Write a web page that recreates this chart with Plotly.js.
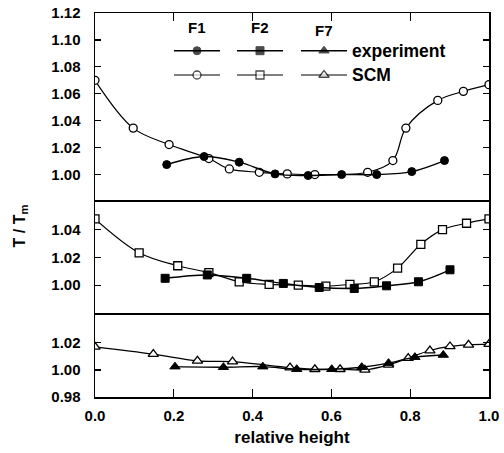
<!DOCTYPE html>
<html>
<head>
<meta charset="utf-8">
<script src="https://cdn.plot.ly/plotly-3.0.1.min.js"></script>
<style>
html,body{margin:0;padding:0;background:#fff;}
#chart{width:504px;height:453px;}
</style>
</head>
<body>
<div id="chart"></div>
<script>
// ---------- DATA ----------
// F1 (top panel)
const f1ScmX = [0.000, 0.097, 0.188, 0.289, 0.341, 0.417, 0.488, 0.558, 0.692, 0.756, 0.789, 0.870, 0.935, 1.000];
const f1ScmY = [1.070, 1.0345, 1.0223, 1.0119, 1.0042, 1.0017, 1.0005, 1.0000, 1.0017, 1.0104, 1.0345, 1.0551, 1.0618, 1.0668];
const f1ExpX = [0.182, 0.277, 0.366, 0.457, 0.541, 0.626, 0.715, 0.804, 0.887];
const f1ExpY = [1.0074, 1.0134, 1.0092, 1.0005, 0.9993, 1.0000, 1.0000, 1.0022, 1.0104];
// F2 (middle panel)
const f2ScmX = [0.000, 0.112, 0.210, 0.289, 0.366, 0.442, 0.516, 0.586, 0.647, 0.709, 0.768, 0.827, 0.882, 0.943, 1.000];
const f2ScmY = [1.0475, 1.0232, 1.0139, 1.0090, 1.0024, 1.0005, 1.0000, 0.9993, 1.0005, 1.0024, 1.0122, 1.0293, 1.0398, 1.0444, 1.0475];
const f2ExpX = [0.178, 0.285, 0.385, 0.478, 0.569, 0.658, 0.740, 0.821, 0.901];
const f2ExpY = [1.0049, 1.0073, 1.0049, 1.0012, 0.9983, 0.9976, 0.9995, 1.0024, 1.0110];
// F7 (bottom panel)
const f7ScmX = [0.000, 0.148, 0.260, 0.349, 0.495, 0.558, 0.622, 0.685, 0.745, 0.795, 0.850, 0.901, 0.948, 1.000];
const f7ScmY = [1.0170, 1.0116, 1.0067, 1.0061, 1.0017, 1.0005, 1.0005, 1.0000, 1.0037, 1.0087, 1.0143, 1.0173, 1.0185, 1.0190];
const f7ExpX = [0.203, 0.326, 0.426, 0.512, 0.601, 0.677, 0.745, 0.812, 0.884];
const f7ExpY = [1.0024, 1.0020, 1.0024, 1.0005, 1.0005, 1.0020, 1.0050, 1.0094, 1.0110];

// ticks
const xTickVals = [0, 0.2, 0.4, 0.6, 0.8, 1.0];
const xTickText = ["0.0", "0.2", "0.4", "0.6", "0.8", "1.0"];
const topTickVals = [1.00, 1.02, 1.04, 1.06, 1.08, 1.10, 1.12];
const topTickText = ["1.00", "1.02", "1.04", "1.06", "1.08", "1.10", "1.12"];
const midTickVals = [1.00, 1.02, 1.04];
const midTickText = ["1.00", "1.02", "1.04"];
const botTickVals = [0.98, 1.00, 1.02];
const botTickText = ["0.98", "1.00", "1.02"];

const groupNames = ["F1", "F2", "F7"];
const rowNames = ["experiment", "SCM"];
const yTitle = "T / T<sub>m</sub>";
const xTitle = "relative height";

// ---------- STYLE ----------
const FONT = "Liberation Sans, Arial, Helvetica, sans-serif";
const W = 504, H = 453;
const M = {l: 95, r: 15, t: 13, b: 56};
const plotW = W - M.l - M.r, plotH = H - M.t - M.b;
const px2x = px => (px - M.l) / plotW;
const py2y = py => (H - M.b - py) / plotH;

const symbols = ["circle", "square", "triangle-up"];
const msize = [8, 8, 9];

function expTrace(x, y, i, xa, ya) {
  return {x: x, y: y, xaxis: xa, yaxis: ya, type: "scatter", mode: "lines+markers",
    line: {color: "#000", width: 1.4, shape: "spline", smoothing: 1},
    marker: {symbol: symbols[i], size: msize[i], color: "#000", line: {color: "#000", width: 1}},
    showlegend: false, hoverinfo: "skip"};
}
function scmTrace(x, y, i, xa, ya) {
  return {x: x, y: y, xaxis: xa, yaxis: ya, type: "scatter", mode: "lines+markers",
    line: {color: "#000", width: 1.2, shape: "spline", smoothing: 1},
    marker: {symbol: symbols[i], size: msize[i], color: "#fff", line: {color: "#000", width: 1.3}},
    showlegend: false, hoverinfo: "skip"};
}

const traces = [
  scmTrace(f1ScmX, f1ScmY, 0, "x3", "y3"),
  expTrace(f1ExpX, f1ExpY, 0, "x3", "y3"),
  scmTrace(f2ScmX, f2ScmY, 1, "x2", "y2"),
  expTrace(f2ExpX, f2ExpY, 1, "x2", "y2"),
  scmTrace(f7ScmX, f7ScmY, 2, "x", "y"),
  expTrace(f7ExpX, f7ExpY, 2, "x", "y"),
  // empty trace so the title-carrying axis (y5) is drawn
  {x: [], y: [], xaxis: "x5", yaxis: "y5", type: "scatter", mode: "lines", showlegend: false, hoverinfo: "skip"}
];

// ---------- custom legend (paper-space overlay) ----------
const legLineL = [174, 237, 301], legLineR = [220, 283, 347], legMark = [197, 260, 324];
const legRowY = [50.7, 75];
const annotations = [];
for (let i = 0; i < 3; i++) {
  for (let r = 0; r < 2; r++) {
    const filled = r === 0;
    traces.push({
      x: [px2x(legLineL[i]), px2x(legMark[i]), px2x(legLineR[i])],
      y: [py2y(legRowY[r]), py2y(legRowY[r]), py2y(legRowY[r])],
      xaxis: "x4", yaxis: "y4", type: "scatter", mode: "lines+markers",
      line: {color: "#000", width: filled ? 1.4 : 1.2},
      marker: {symbol: symbols[i], size: [0, msize[i], 0],
               color: filled ? "#000" : "#fff", line: {color: "#000", width: filled ? 1 : 1.3}},
      showlegend: false, hoverinfo: "skip"
    });
  }
  annotations.push({xref: "paper", yref: "paper", x: px2x(legMark[i]), y: py2y(i === 2 ? 30 : 27),
    text: groupNames[i], showarrow: false, xanchor: "center", yanchor: "middle",
    font: {family: FONT, size: 15, color: "#000", weight: "bold"}});
}
for (let r = 0; r < 2; r++) {
  annotations.push({xref: "paper", yref: "paper", x: px2x(350), y: py2y(legRowY[r]),
    text: rowNames[r], showarrow: false, xanchor: "left", yanchor: "middle",
    font: {family: FONT, size: 17.5, color: "#000", weight: "bold"}});
}

// ---------- AXES ----------
const tickFont = {family: FONT, size: 15, color: "#000", weight: "bold"};
function yAx(domain, range, vals, text) {
  return {domain: domain, range: range, tickmode: "array", tickvals: vals, ticktext: text,
    ticks: "inside", ticklen: 6, tickwidth: 1.2, tickcolor: "#000",
    showline: true, linecolor: "#000", linewidth: 1.5, mirror: "ticks",
    showgrid: false, zeroline: false, tickfont: tickFont, ticklabelstandoff: 10, fixedrange: true};
}
const sep1 = 201.5, sep2 = 313;
const dTop = [py2y(sep1), 1], dMid = [py2y(sep2), py2y(sep1)], dBot = [0, py2y(sep2)];

const layout = {
  width: W, height: H, margin: M,
  paper_bgcolor: "#fff", plot_bgcolor: "rgba(0,0,0,0)",
  showlegend: false,
  xaxis: {domain: [0, 1], range: [0, 1], anchor: "y", tickmode: "array", tickvals: xTickVals, ticktext: xTickText,
    ticks: "inside", ticklen: 8, tickwidth: 1.2, tickcolor: "#000", showline: true, linecolor: "#000", linewidth: 1.5,
    mirror: false, showgrid: false, zeroline: false, tickfont: tickFont, ticklabelstandoff: 4,
    title: {text: xTitle, font: {family: FONT, size: 17, color: "#000", weight: "bold"}, standoff: 8}},
  xaxis2: {domain: [0, 1], range: [0, 1], anchor: "y2", matches: "x", showticklabels: false, ticks: "",
    showline: true, linecolor: "#000", linewidth: 1.5, mirror: true, showgrid: false, zeroline: false},
  xaxis3: {domain: [0, 1], range: [0, 1], anchor: "y3", matches: "x", side: "top", showticklabels: false,
    tickmode: "array", tickvals: xTickVals, ticks: "inside", ticklen: 8, tickwidth: 1.2, tickcolor: "#000",
    showline: true, linecolor: "#000", linewidth: 1.5, mirror: false, showgrid: false, zeroline: false},
  xaxis4: {domain: [0, 1], range: [0, 1], anchor: "y4", visible: false, fixedrange: true},
  yaxis: yAx(dBot, [0.98, 1.042], botTickVals, botTickText),
  yaxis2: yAx(dMid, [0.98, 1.06], midTickVals, midTickText),
  yaxis3: yAx(dTop, [0.98, 1.12], topTickVals, topTickText),
  yaxis4: {domain: [0, 1], range: [0, 1], anchor: "x4", visible: false, fixedrange: true},
  // axis pair used only to carry the shared, rotated y title
  xaxis5: {domain: [0, 1], range: [0, 1], anchor: "y5", visible: false, fixedrange: true},
  yaxis5: {domain: [py2y(326), py2y(126)], range: [0, 1], anchor: "x5", side: "left", visible: true,
    showline: false, showgrid: false, zeroline: false, ticks: "", showticklabels: false, fixedrange: true,
    title: {text: yTitle, standoff: 64, font: {family: FONT, size: 16, color: "#000", weight: "bold"}}},
  annotations: annotations
};
layout.yaxis.anchor = "x";
layout.yaxis2.anchor = "x2";
layout.yaxis3.anchor = "x3";

Plotly.newPlot("chart", traces, layout, {staticPlot: true, displayModeBar: false});
</script>
</body>
</html>
